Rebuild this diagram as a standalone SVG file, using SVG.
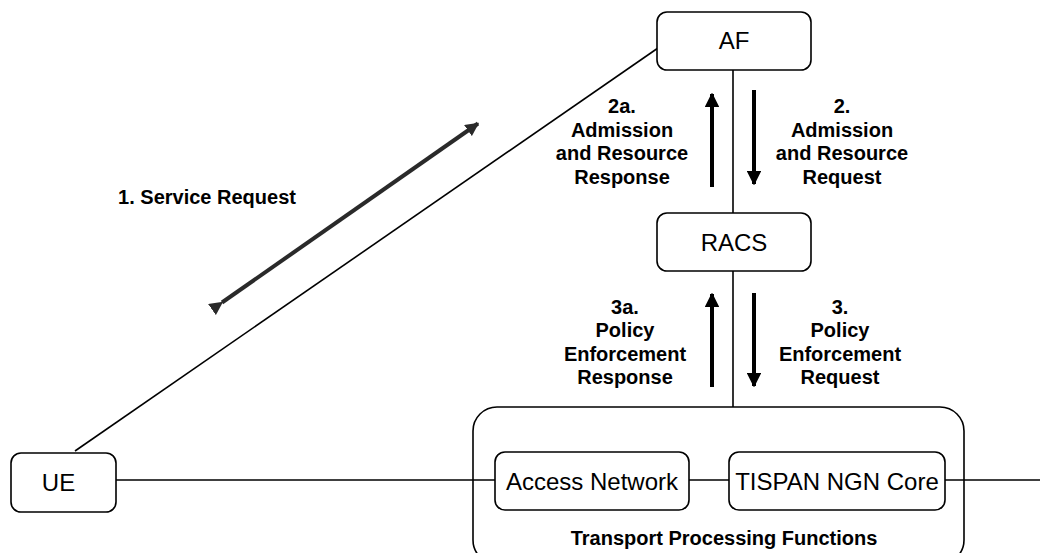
<svg xmlns="http://www.w3.org/2000/svg" width="1040" height="553" viewBox="0 0 1040 553">
<style>
.box{fill:#fff;stroke:#000;stroke-width:1.6}
.ln{stroke:#000;stroke-width:1.6;fill:none}
.nt{font-family:"Liberation Sans",Arial,sans-serif;font-size:24px;fill:#000;text-anchor:middle}
.lb{font-family:"Liberation Sans",Arial,sans-serif;font-size:20px;font-weight:bold;fill:#000;text-anchor:middle}
.ar{stroke:#000;stroke-width:4;fill:none}
.sr{stroke:#2a2a2a;stroke-width:4;fill:none}
</style>
<defs>
<marker id="ah" viewBox="0 0 10 10" refX="9" refY="5" markerWidth="3.6" markerHeight="3.6" orient="auto" markerUnits="strokeWidth">
<path d="M0,0 L10,5 L0,10 z" fill="#000"/>
</marker>
<marker id="sh" viewBox="0 0 10 10" refX="9" refY="5" markerWidth="3.4" markerHeight="3.4" orient="auto" markerUnits="strokeWidth">
<path d="M0,0 L10,5 L0,10 z" fill="#2a2a2a"/>
</marker>
</defs>
<g id="connectors">
<line class="ln" x1="733" y1="70" x2="733" y2="213"/>
<line class="ln" x1="733" y1="271" x2="733" y2="407"/>
<line class="ln" x1="75" y1="451" x2="658" y2="48"/>
<line class="ln" x1="116" y1="480" x2="495" y2="480"/>
<line class="ln" x1="689" y1="480" x2="729" y2="480"/>
<line class="ln" x1="945" y1="480" x2="1040" y2="480"/>
<line class="sr" x1="222" y1="302.5" x2="478" y2="123.5" marker-start="url(#sh)" marker-end="url(#sh)"/>
<line class="ar" x1="712" y1="187" x2="712" y2="94" marker-end="url(#ah)"/>
<line class="ar" x1="754" y1="90" x2="754" y2="184" marker-end="url(#ah)"/>
<line class="ar" x1="712" y1="387" x2="712" y2="294" marker-end="url(#ah)"/>
<line class="ar" x1="754" y1="293" x2="754" y2="386" marker-end="url(#ah)"/>
</g>
<g id="labels">
<text class="lb" x="207" y="204">1. Service Request</text>
<text class="lb" x="622" y="113">2a.</text>
<text class="lb" x="622" y="136.5">Admission</text>
<text class="lb" x="622" y="160">and Resource</text>
<text class="lb" x="622" y="183.5">Response</text>
<text class="lb" x="842" y="113">2.</text>
<text class="lb" x="842" y="136.5">Admission</text>
<text class="lb" x="842" y="160">and Resource</text>
<text class="lb" x="842" y="183.5">Request</text>
<text class="lb" x="625" y="313.5">3a.</text>
<text class="lb" x="625" y="337">Policy</text>
<text class="lb" x="625" y="360.5">Enforcement</text>
<text class="lb" x="625" y="384">Response</text>
<text class="lb" x="840" y="313.5">3.</text>
<text class="lb" x="840" y="337">Policy</text>
<text class="lb" x="840" y="360.5">Enforcement</text>
<text class="lb" x="840" y="384">Request</text>
</g>
<g id="AF">
<rect class="box" x="657" y="12" width="154" height="58" rx="10"/>
<text class="nt" x="734" y="49">AF</text>
</g>
<g id="RACS">
<rect class="box" x="657" y="213" width="154" height="58" rx="10"/>
<text class="nt" x="734" y="251">RACS</text>
</g>
<g id="UE">
<rect class="box" x="11" y="453" width="105" height="59" rx="10"/>
<text class="nt" x="58.5" y="491">UE</text>
</g>
<g id="TPF">
<rect class="box" x="473" y="407" width="491" height="157" rx="24" style="fill:none"/>
<text class="lb" x="724" y="545">Transport Processing Functions</text>
</g>
<g id="AccessNetwork">
<rect class="box" x="495" y="452" width="194" height="58" rx="10"/>
<text class="nt" x="592" y="490">Access Network</text>
</g>
<g id="TISPAN">
<rect class="box" x="729" y="452" width="216" height="58" rx="10"/>
<text class="nt" x="837" y="490">TISPAN NGN Core</text>
</g>
</svg>
